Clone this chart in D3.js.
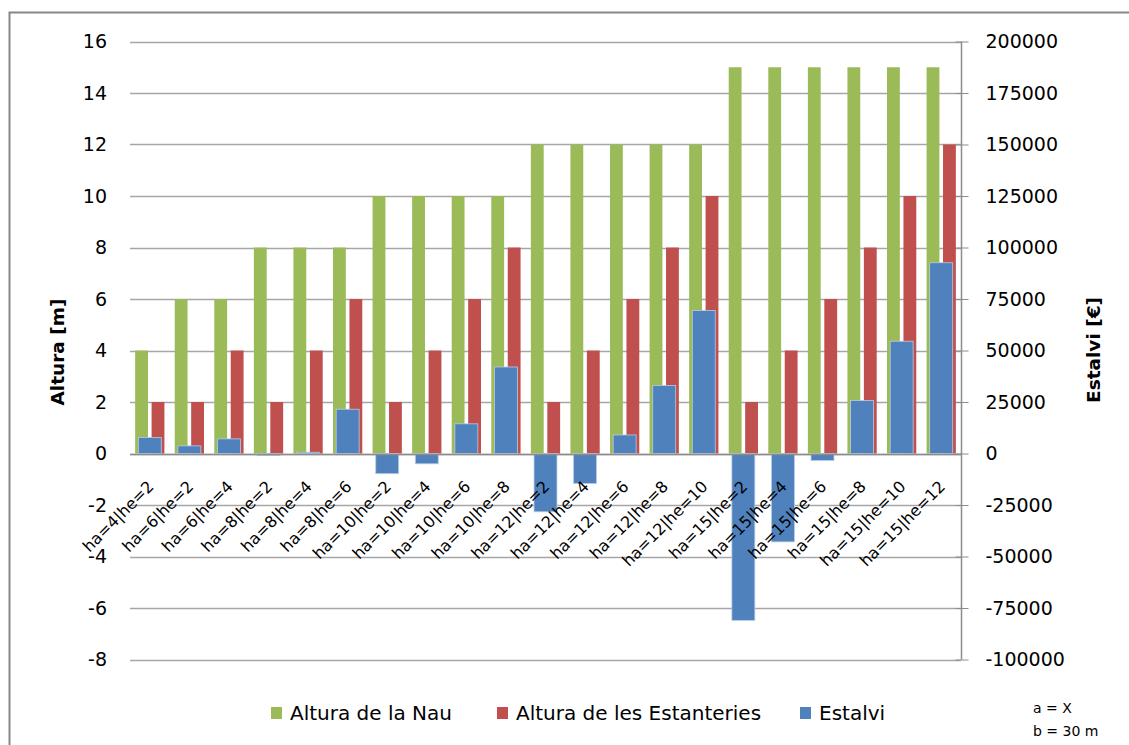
<!DOCTYPE html>
<html>
<head>
<meta charset="utf-8">
<script src="https://cdn.jsdelivr.net/npm/d3@7"></script>
<style>
  body { margin: 0; background: #fff; }
  text { font-family: "DejaVu Sans", "Liberation Sans", Arial, sans-serif; fill: #000; }
</style>
</head>
<body>
<div id="chart"></div>
<script>
// categories: ha = altura de la nau, he = altura de les estanteries
var categories = ["ha=4|he=2", "ha=6|he=2", "ha=6|he=4", "ha=8|he=2", "ha=8|he=4", "ha=8|he=6",
  "ha=10|he=2", "ha=10|he=4", "ha=10|he=6", "ha=10|he=8",
  "ha=12|he=2", "ha=12|he=4", "ha=12|he=6", "ha=12|he=8", "ha=12|he=10",
  "ha=15|he=2", "ha=15|he=4", "ha=15|he=6", "ha=15|he=8", "ha=15|he=10", "ha=15|he=12"];

var alturaNau = [4, 6, 6, 8, 8, 8, 10, 10, 10, 10, 12, 12, 12, 12, 12, 15, 15, 15, 15, 15, 15];
var alturaEstanteries = [2, 2, 4, 2, 4, 6, 2, 4, 6, 8, 2, 4, 6, 8, 10, 2, 4, 6, 8, 10, 12];
var estalvi = [7800, 3700, 7100, -1000, 600, 21500, -9800, -5000, 14400, 42000,
  -28300, -14600, 9000, 33000, 69400, -81000, -42900, -3400, 25700, 54500, 92600];

var leftTicks = [-8, -6, -4, -2, 0, 2, 4, 6, 8, 10, 12, 14, 16];
var rightTicks = [-100000, -75000, -50000, -25000, 0, 25000, 50000, 75000, 100000, 125000, 150000, 175000, 200000];

var legendItems = ["Altura de la Nau", "Altura de les Estanteries", "Estalvi"];
var notes = ["a = X", "b = 30 m"];

var colors = {nau: "#9bbb59", est: "#c0504d", estalvi: "#4f81bd"};

var W = 1129, H = 745;
var plot = {left: 130, right: 961, top: 41.5, bottom: 659.5};

var svg = d3.select("#chart").append("svg")
    .attr("width", W)
    .attr("height", H);

// outer chart border
svg.append("rect")
    .attr("x", 9.5).attr("y", 12.5)
    .attr("width", W + 20).attr("height", H + 20)
    .attr("fill", "none")
    .attr("stroke", "#878787")
    .attr("stroke-width", 2);

var y = d3.scaleLinear().domain([-8, 16]).range([plot.bottom, plot.top]);
var y2 = d3.scaleLinear().domain([-100000, 200000]).range([plot.bottom, plot.top]);

var x = d3.scaleBand()
    .domain(categories)
    .range([plot.left, plot.right])
    .paddingInner(0.26)
    .paddingOuter(0.13);

var xs = d3.scaleBand()
    .domain(categories)
    .range([plot.left, plot.right])
    .paddingInner(0.42)
    .paddingOuter(0.21);

var x1 = d3.scaleBand()
    .domain(["nau", "est"])
    .range([0, x.bandwidth()])
    .paddingInner(0.22);

// gridlines
svg.append("g")
  .selectAll("line")
  .data(leftTicks)
  .enter()
  .append("line")
    .attr("x1", plot.left)
    .attr("x2", plot.right)
    .attr("y1", function(d) { return Math.round(y(d)) + 0.5; })
    .attr("y2", function(d) { return Math.round(y(d)) + 0.5; })
    .attr("stroke", "#a6a6a6")
    .attr("stroke-width", 1.5);

// left tick labels
svg.append("g")
  .selectAll("text")
  .data(leftTicks)
  .enter()
  .append("text")
    .attr("x", 107)
    .attr("y", function(d) { return y(d); })
    .attr("dy", "0.36em")
    .attr("text-anchor", "end")
    .style("font-size", "19px")
    .text(function(d) { return d; });

// right axis (plain hyphen for negatives, like the original)
var rightAxis = svg.append("g")
    .attr("transform", "translate(" + (plot.right + 0.5) + ",0)")
    .call(d3.axisRight(y2).tickValues(rightTicks).tickSize(7).tickPadding(17)
      .tickFormat(function(d) { return String(d); }));
rightAxis.select(".domain").attr("stroke", "#8c8c8c").attr("stroke-width", 1.5).attr("d", "M0," + plot.top + "V" + plot.bottom);
rightAxis.selectAll(".tick line").attr("stroke", "#8c8c8c").attr("x1", -6).attr("x2", 7);
rightAxis.selectAll(".tick text")
    .style("font-size", "19px")
    .style("font-family", "DejaVu Sans, Liberation Sans, Arial, sans-serif")
    .attr("fill", "#000");

// primary bars
var groups = svg.append("g")
  .selectAll("g")
  .data(categories)
  .enter()
  .append("g")
    .attr("transform", function(d) { return "translate(" + x(d) + ",0)"; });

groups.append("rect")
    .attr("x", x1("nau"))
    .attr("width", x1.bandwidth())
    .attr("y", function(d, i) { return y(alturaNau[i]); })
    .attr("height", function(d, i) { return y(0) - y(alturaNau[i]); })
    .attr("fill", colors.nau);

groups.append("rect")
    .attr("x", x1("est"))
    .attr("width", x1.bandwidth())
    .attr("y", function(d, i) { return y(alturaEstanteries[i]); })
    .attr("height", function(d, i) { return y(0) - y(alturaEstanteries[i]); })
    .attr("fill", colors.est);

// secondary bars
svg.append("g")
  .selectAll("rect")
  .data(categories)
  .enter()
  .append("rect")
    .attr("x", function(d) { return xs(d); })
    .attr("width", xs.bandwidth())
    .attr("y", function(d, i) { return Math.min(y2(estalvi[i]), y2(0)); })
    .attr("height", function(d, i) { return Math.abs(y2(0) - y2(estalvi[i])); })
    .attr("fill", colors.estalvi)
    .attr("stroke", "#b8cce4")
    .attr("stroke-width", 0.8);

// zero line on top
svg.append("line")
    .attr("x1", plot.left).attr("x2", plot.right)
    .attr("y1", Math.round(y(0)) + 0.5).attr("y2", Math.round(y(0)) + 0.5)
    .attr("stroke", "#8c8c8c")
    .attr("stroke-width", 1.5);

// category labels, rotated -45deg, ending just right of the category centre
svg.append("g")
  .selectAll("text")
  .data(categories)
  .enter()
  .append("text")
    .attr("transform", function(d) {
      return "translate(" + (x(d) + x.bandwidth() / 2 + 5) + "," + (y(0) + 34) + ") rotate(-45)";
    })
    .attr("text-anchor", "end")
    .style("font-size", "16px")
    .text(function(d) { return d; });

// axis titles
svg.append("text")
    .attr("transform", "translate(58,352) rotate(-90)")
    .attr("text-anchor", "middle")
    .attr("dy", "0.35em")
    .style("font-size", "18.5px")
    .style("font-weight", "bold")
    .text("Altura [m]");

svg.append("text")
    .attr("transform", "translate(1094,350) rotate(-90)")
    .attr("text-anchor", "middle")
    .attr("dy", "0.35em")
    .style("font-size", "18.5px")
    .style("font-weight", "bold")
    .text("Estalvi [€]");

// legend
var legendX = [271, 497, 800];
var legendColors = [colors.nau, colors.est, colors.estalvi];
var legend = svg.append("g")
  .selectAll("g")
  .data(legendItems)
  .enter()
  .append("g")
    .attr("transform", function(d, i) { return "translate(" + legendX[i] + ",707)"; });

legend.append("rect")
    .attr("width", 11)
    .attr("height", 12)
    .attr("fill", function(d, i) { return legendColors[i]; });

legend.append("text")
    .attr("x", 19)
    .attr("y", 6)
    .attr("dy", "0.36em")
    .style("font-size", "20px")
    .text(function(d) { return d; });

// notes bottom right
svg.append("g")
  .selectAll("text")
  .data(notes)
  .enter()
  .append("text")
    .attr("x", 1033)
    .attr("y", function(d, i) { return 708 + i * 23; })
    .attr("dy", "0.35em")
    .style("font-size", "14px")
    .text(function(d) { return d; });
</script>
</body>
</html>
